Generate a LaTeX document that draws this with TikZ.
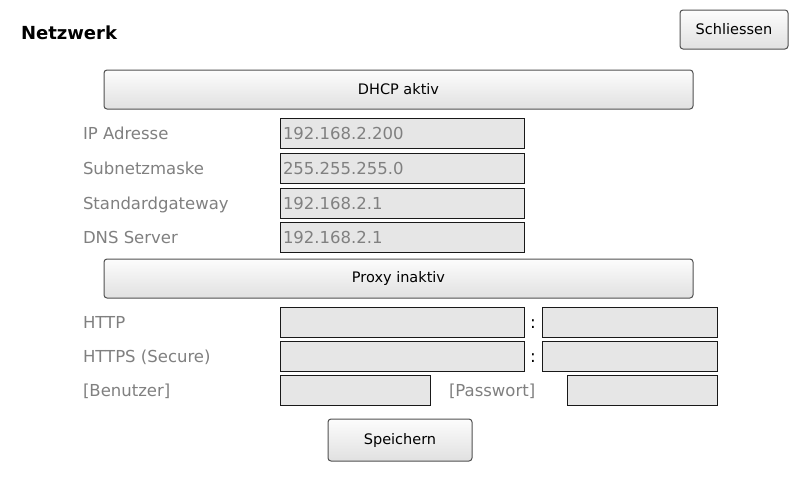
\documentclass[tikz,border=0pt]{standalone}
\usepackage{fontspec}
\setmainfont{DejaVu Sans}
\usepackage{xcolor}
\usepackage{tikz}
\usetikzlibrary{positioning}
\definecolor{lblgray}{HTML}{808080}
\definecolor{fieldfill}{HTML}{E6E6E6}
\definecolor{btnedge}{HTML}{505050}
\tikzstyle{every node}=[inner sep=0pt, outer sep=0pt]
\tikzstyle{titletext}=[font=\fontsize{18}{21}\selectfont\bfseries, anchor=base west]
\tikzstyle{button}=[draw=btnedge, line width=1pt, rounded corners=3pt, top color=black!1, bottom color=black!12, font=\fontsize{14.5}{17}\selectfont]
\tikzstyle{field}=[draw=black!90, line width=1pt, fill=fieldfill, minimum height=30pt]
\tikzstyle{lbltext}=[text=lblgray, font=\fontsize{16.5}{20}\selectfont, text height=12pt, text depth=0pt, anchor=west]
\tikzstyle{coltext}=[text=black, font=\fontsize{17}{20}\selectfont, text height=12pt, text depth=0pt]

\begin{document}
\begin{tikzpicture}[x=1pt,y=-1pt]
            \coordinate (lblx) at (83,0);
            \coordinate (colx) at (533,0);

            \useasboundingbox[fill=white] (0,0) rectangle (800,480);

            \node[titletext] (title) at (21,39) {Netzwerk};
            \node[button, minimum width=108pt, minimum height=39pt] (close) at (734,29.5) {Schliessen};

            \node[button, minimum width=589pt, minimum height=39pt] (dhcp) at (398.5,89.5) {DHCP aktiv};

            \node[field, minimum width=244pt] (ipbox) at (402,133) {};
            \node[field, minimum width=244pt] (maskbox) at (402,168.5) {};
            \node[field, minimum width=244pt] (gwbox) at (402,203) {};
            \node[field, minimum width=244pt] (dnsbox) at (402,237) {};

            \node[lbltext] (iplbl) at (lblx |- ipbox) {IP Adresse};
            \node[lbltext] (masklbl) at (lblx |- maskbox) {Subnetzmaske};
            \node[lbltext] (gwlbl) at (lblx |- gwbox) {Standardgateway};
            \node[lbltext] (dnslbl) at (lblx |- dnsbox) {DNS Server};

            \node[lbltext, right=3pt of ipbox.west] (ipval) {192.168.2.200};
            \node[lbltext, right=3pt of maskbox.west] (maskval) {255.255.255.0};
            \node[lbltext, right=3pt of gwbox.west] (gwval) {192.168.2.1};
            \node[lbltext, right=3pt of dnsbox.west] (dnsval) {192.168.2.1};

            \node[button, minimum width=589pt, minimum height=39pt] (proxy) at (398.5,278.5) {Proxy inaktiv};

            \node[field, minimum width=244pt] (httpbox) at (402,322) {};
            \node[field, minimum width=175pt] (httpport) at (629.5,322) {};
            \node[field, minimum width=244pt] (httpsbox) at (402,356) {};
            \node[field, minimum width=175pt] (httpsport) at (629.5,356) {};
            \node[field, minimum width=150pt] (userbox) at (355,390) {};
            \node[field, minimum width=150pt] (passbox) at (642,390) {};

            \node[lbltext] (httplbl) at (lblx |- httpbox) {HTTP};
            \node[lbltext] (httpslbl) at (lblx |- httpsbox) {HTTPS (Secure)};
            \node[lbltext] (userlbl) at (lblx |- userbox) {[Benutzer]};
            \node[lbltext, right=19pt of userbox] (passlbl) {[Passwort]};

            \node[coltext] (httpcol) at (colx |- httpbox) {:};
            \node[coltext] (httpscol) at (colx |- httpsbox) {:};

            \node[button, minimum width=144pt, minimum height=42pt] (save) at (400,440) {Speichern};
        \end{tikzpicture}
\end{document}
